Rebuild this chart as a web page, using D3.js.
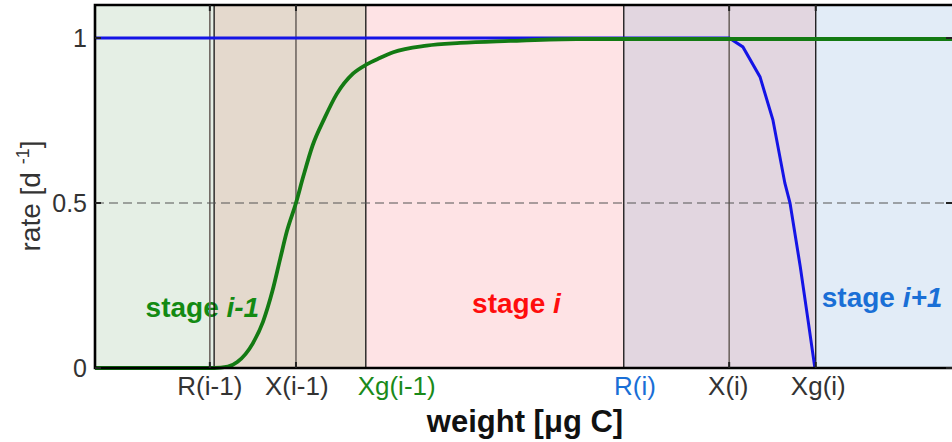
<!DOCTYPE html>
<html>
<head>
<meta charset="utf-8">
<script src="https://cdn.jsdelivr.net/npm/d3@7"></script>
<style>
  html, body { margin: 0; padding: 0; background: #fff; }
  svg { display: block; font-family: "Liberation Sans", Arial, Helvetica, sans-serif; }
</style>
</head>
<body>
<svg id="chart" width="952" height="442"></svg>
<script>
// ---- data (weight axis in arbitrary units 0..100) ----
const stageBounds = [0, 13.9, 31.6, 61.7, 84.1, 100];
const stageFills = ["#e5efe5", "#e4d9cd", "#fee3e5", "#e2d6e0", "#e2ecf7"];
const boundaryLines = [13.9, 31.6, 61.7, 84.1];
const gridLines = [13.4, 23.45, 74.0];
const tickMarks = [13.4, 23.45, 74.0, 84.1];

const tickLabels = ["R(i-1)", "X(i-1)", "Xg(i-1)", "R(i)", "X(i)", "Xg(i)"];
const tickLabelPos = [13.4, 23.55, 35.2, 63.0, 73.9, 84.4];
const tickLabelColors = ["#333333", "#333333", "#1a8a1a", "#1a6fd6", "#333333", "#333333"];

const yTicks = [0, 0.5, 1];
const yTickLabels = ["0", "0.5", "1"];

const greenX = [0, 13.9, 15.5, 16.6, 18.4, 19.6, 20.7, 21.6, 22.4, 23.45, 24.3, 25.4, 26.8, 28.2, 30.1, 31.7, 33.3, 34.8, 38.7, 42.6, 48.4, 56.2, 100];
const greenY = [0, 0, 0.004, 0.018, 0.074, 0.14, 0.233, 0.33, 0.415, 0.50, 0.58, 0.675, 0.758, 0.83, 0.892, 0.92, 0.94, 0.957, 0.977, 0.985, 0.991, 0.997, 0.997];

const blueX = [0, 74.0, 75.6, 77.6, 79.1, 80.5, 81.1, 82.3, 83.2, 84.0];
const blueY = [1, 1, 0.973, 0.882, 0.752, 0.56, 0.5, 0.306, 0.145, 0];

const stageNames = ["stage ", "stage ", "stage "];
const stageSuffix = ["i-1", "i", "i+1"];
const stageTextX = [5.9, 44.0, 84.8];
const stageTextY = [0.155, 0.167, 0.185];
const stageTextColors = ["#138a13", "#ff0d0d", "#1a6fd6"];

// ---- layout ----
const svg = d3.select("#chart");
const plotLeft = 95, plotRight = 952, plotTop = 5, plotBottom = 368;
const x = d3.scaleLinear().domain([0, 100]).range([plotLeft, plotRight]);
const y = d3.scaleLinear().domain([0, 1.1]).range([plotBottom, plotTop]);

// stage fills
svg.append("g").selectAll("rect")
  .data(d3.range(stageFills.length))
  .join("rect")
  .attr("x", i => x(stageBounds[i]))
  .attr("y", y(1.1))
  .attr("width", i => x(stageBounds[i + 1]) - x(stageBounds[i]))
  .attr("height", y(0) - y(1.1))
  .attr("fill", i => stageFills[i]);

// stage texts
const st = svg.append("g");
stageNames.forEach((n, i) => {
  const t = st.append("text")
    .attr("x", x(stageTextX[i]))
    .attr("y", y(stageTextY[i]))
    .attr("fill", stageTextColors[i])
    .attr("font-size", 28)
    .attr("font-weight", "bold");
  t.append("tspan").text(n);
  t.append("tspan").attr("font-style", "italic").text(stageSuffix[i]);
});

// grid lines at ticks
svg.append("g").selectAll("line")
  .data(gridLines)
  .join("line")
  .attr("x1", d => x(d)).attr("x2", d => x(d))
  .attr("y1", y(1.1)).attr("y2", y(0))
  .attr("stroke", "#6f6762")
  .attr("stroke-width", 1.6);

// boundary lines
svg.append("g").selectAll("line")
  .data(boundaryLines)
  .join("line")
  .attr("x1", d => x(d)).attr("x2", d => x(d))
  .attr("y1", y(1.1)).attr("y2", y(0))
  .attr("stroke", "#111")
  .attr("stroke-width", 1.3);

// dashed 0.5 line
svg.append("line")
  .attr("x1", x(0)).attr("x2", x(100))
  .attr("y1", y(0.5)).attr("y2", y(0.5))
  .attr("stroke", "#555")
  .attr("stroke-width", 1.2)
  .attr("stroke-dasharray", "9,5");

// blue curve
svg.append("path")
  .datum(blueX.map((v, i) => [v, blueY[i]]))
  .attr("d", d3.line().x(d => x(d[0])).y(d => y(d[1])).curve(d3.curveLinear))
  .attr("fill", "none")
  .attr("stroke", "#1414e6")
  .attr("stroke-width", 3);

// green curve
svg.append("path")
  .datum(greenX.map((v, i) => [v, greenY[i]]))
  .attr("d", d3.line().x(d => x(d[0])).y(d => y(d[1])).curve(d3.curveMonotoneX))
  .attr("fill", "none")
  .attr("stroke", "#137a13")
  .attr("stroke-width", 3.8);

// frame
svg.append("path")
  .attr("d", `M${x(100) + 3},${y(1.1)} H${x(0)} V${y(0)} H${x(100) + 3}`)
  .attr("fill", "none")
  .attr("stroke", "#000")
  .attr("stroke-width", 2.6);

// tick marks (inward, top and bottom)
const tm = svg.append("g");
tickMarks.forEach(v => {
  tm.append("line").attr("x1", x(v)).attr("x2", x(v)).attr("y1", y(0)).attr("y2", y(0) - 6)
    .attr("stroke", "#222").attr("stroke-width", 2);
  tm.append("line").attr("x1", x(v)).attr("x2", x(v)).attr("y1", y(1.1)).attr("y2", y(1.1) + 6)
    .attr("stroke", "#222").attr("stroke-width", 2);
});
yTicks.forEach(v => {
  tm.append("line").attr("x1", x(0)).attr("x2", x(0) + 6).attr("y1", y(v)).attr("y2", y(v))
    .attr("stroke", "#222").attr("stroke-width", 2);
  tm.append("line").attr("x1", x(100) - 6).attr("x2", x(100)).attr("y1", y(v)).attr("y2", y(v))
    .attr("stroke", "#222").attr("stroke-width", 2);
});

// y tick labels
svg.append("g").selectAll("text")
  .data(yTicks)
  .join("text")
  .attr("x", plotLeft - 8)
  .attr("y", d => y(d))
  .attr("dy", "0.36em")
  .attr("text-anchor", "end")
  .attr("font-size", 25)
  .attr("fill", "#333")
  .text((d, i) => yTickLabels[i]);

// x tick labels
svg.append("g").selectAll("text")
  .data(tickLabels)
  .join("text")
  .attr("x", (d, i) => x(tickLabelPos[i]))
  .attr("y", 395)
  .attr("text-anchor", "middle")
  .attr("font-size", 26)
  .attr("fill", (d, i) => tickLabelColors[i])
  .text(d => d);

// axis titles
svg.append("text")
  .attr("x", 525).attr("y", 432)
  .attr("text-anchor", "middle")
  .attr("font-size", 31)
  .attr("font-weight", "bold")
  .attr("fill", "#111")
  .text("weight [μg C]");

const yl = svg.append("text")
  .attr("transform", `translate(40,196) rotate(-90)`)
  .attr("text-anchor", "middle")
  .attr("font-size", 28)
  .attr("fill", "#333");
yl.append("tspan").text("rate [d ");
yl.append("tspan").attr("font-size", 18).attr("dy", -11).text("-1");
yl.append("tspan").attr("dy", 11).text("]");
</script>
</body>
</html>
